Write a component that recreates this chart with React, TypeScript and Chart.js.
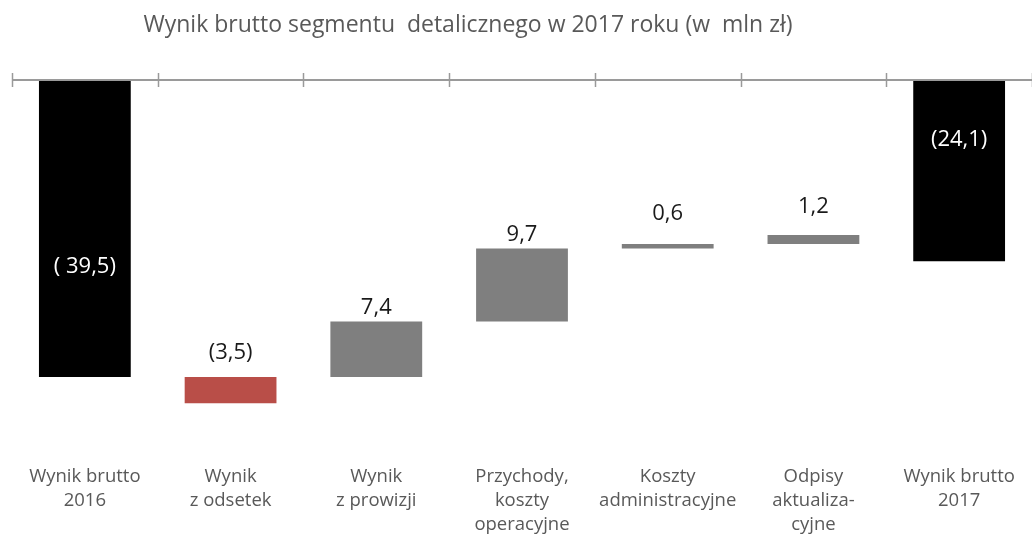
import React, { useEffect, useRef } from "react";
import { Chart, registerables } from "chart.js";

Chart.register(...registerables);

const chartTitle = "Wynik brutto segmentu  detalicznego w 2017 roku (w  mln zł)";
const categories: string[][] = [
  ["Wynik brutto", "2016"],
  ["Wynik", "z odsetek"],
  ["Wynik", "z prowizji"],
  ["Przychody,", "koszty", "operacyjne"],
  ["Koszty", "administracyjne"],
  ["Odpisy", "aktualiza-", "cyjne"],
  ["Wynik brutto", "2017"],
];
const changes = [-39.5, -3.5, 7.4, 9.7, 0.6, 1.2, -24.1];
const bases = [0, -39.5, -39.5, -32.1, -22.4, -21.8, 0];
const valueLabels = ["( 39,5)", "(3,5)", "7,4", "9,7", "0,6", "1,2", "(24,1)"];
const barColors = ["#000000", "#B94E48", "#7F7F7F", "#7F7F7F", "#7F7F7F", "#7F7F7F", "#000000"];
const yMin = -50;
const yMax = 0;

const FONT = "'Open Sans', 'DejaVu Sans', sans-serif";

const overlayPlugin = {
  id: "overlay",
  afterDatasetsDraw(chart: any) {
    const ctx = chart.ctx;
    const xs = chart.scales.x;
    const ys = chart.scales.y;
    const y0 = ys.getPixelForValue(0);
    const n = categories.length;
    const step = xs.width / n;
    ctx.save();
    // axis line at zero
    ctx.strokeStyle = "#9a9a9a";
    ctx.lineWidth = 2;
    ctx.beginPath();
    ctx.moveTo(xs.left, y0);
    ctx.lineTo(chart.width, y0);
    ctx.stroke();
    ctx.lineWidth = 1.5;
    for (let i = 0; i <= n; i++) {
      const x = Math.round(xs.getPixelForValue(0) - step / 2 + i * step) + 0.5;
      ctx.beginPath();
      ctx.moveTo(x, y0 - 7);
      ctx.lineTo(x, y0 + 7);
      ctx.stroke();
    }
    // value labels
    const meta = chart.getDatasetMeta(0);
    const insideFrac = [0.63, 0, 0, 0, 0, 0, 0.33];
    const aboveGap = [0, 24, 14, 14, 30, 28, 0];
    ctx.font = `22px ${FONT}`;
    ctx.textAlign = "center";
    ctx.textBaseline = "middle";
    meta.data.forEach((el: any, i: number) => {
      const top = Math.min(el.y, el.base);
      const bottom = Math.max(el.y, el.base);
      if (insideFrac[i] > 0) {
        ctx.fillStyle = "#ffffff";
        ctx.fillText(valueLabels[i], el.x, top + insideFrac[i] * (bottom - top));
      } else {
        ctx.fillStyle = "#1a1a1a";
        ctx.fillText(valueLabels[i], el.x, top - aboveGap[i]);
      }
    });
    // title
    ctx.font = `23px ${FONT}`;
    ctx.fillStyle = "#595959";
    ctx.textAlign = "center";
    ctx.textBaseline = "middle";
    ctx.fillText(chartTitle, 468, 25);
    ctx.restore();
  },
};

export default function App() {
  const ref = useRef<HTMLCanvasElement | null>(null);
  useEffect(() => {
    if (!ref.current) return;
    const chart = new Chart(ref.current, {
      type: "bar",
      data: {
        labels: categories as any,
        datasets: [
          {
            data: bases.map((b, i) => [b, b + changes[i]]) as any,
            backgroundColor: barColors,
            borderWidth: 0,
            borderSkipped: false,
            barPercentage: 0.63,
            categoryPercentage: 1,
          },
        ],
      },
      options: {
        animation: false,
        responsive: true,
        maintainAspectRatio: false,
        layout: { padding: { top: 80, left: 12, right: 0, bottom: 0 } },
        plugins: {
          legend: { display: false },
          tooltip: { enabled: false },
          title: { display: false },
        },
        scales: {
          x: {
            grid: { display: false, drawTicks: false },
            border: { display: false },
            ticks: {
              color: "#595959",
              font: { family: FONT, size: 18.5, lineHeight: 1.3 },
              padding: 9,
              maxRotation: 0,
              autoSkip: false,
            },
            afterFit: (s: any) => {
              s.height = 82;
            },
          },
          y: { display: false, min: yMin, max: yMax },
        },
      },
      plugins: [overlayPlugin],
    });
    return () => chart.destroy();
  }, []);
  return (
    <div style={{ position: "fixed", left: 0, top: 0, width: 1032, height: 538, background: "#fff" }}>
      <canvas ref={ref} />
    </div>
  );
}
